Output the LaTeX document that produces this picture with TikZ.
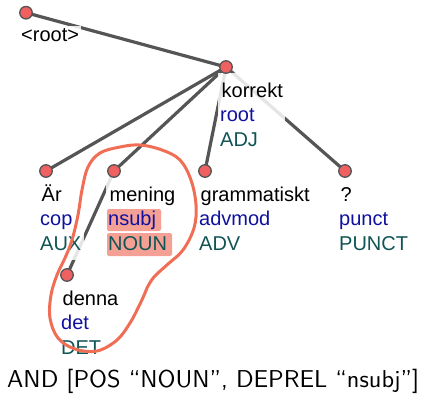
\documentclass[tikz,border=0pt]{standalone}
\usepackage{fontspec}
\newfontfamily\lab{Liberation Sans}
\newfontfamily\qfont{lmsans10-regular.otf}
\usetikzlibrary{fit}

\definecolor{edgegray}{RGB}{85,85,85}
\definecolor{tokred}{RGB}{240,96,96}
\definecolor{relblue}{RGB}{16,16,160}
\definecolor{postea}{RGB}{16,84,84}
\definecolor{hlsalmon}{RGB}{244,160,148}
\definecolor{loopred}{RGB}{240,110,85}

\pgfdeclarelayer{edgelayer}
\pgfdeclarelayer{halolayer}
\pgfsetlayers{edgelayer,halolayer,main}

% token: name, x, y, word, relation, part of speech
\newcommand\deptoken[6]{%
  \node[tok] (#1) at (#2,#3) {};
  \node[wordtxt] (#1w) at ({#2-4.5},{#3+30.5}) {#4};
  \node[reltxt]  (#1r) at ({#2-6},{#3+54.8}) {#5};
  \node[postxt]  (#1p) at ({#2-6},{#3+79}) {#6};
  \begin{pgfonlayer}{halolayer}
    \node[halo, fit=(#1w)(#1r)(#1p)] (#1h) {};
  \end{pgfonlayer}}

\begin{document}
\begin{tikzpicture}[x=1pt, y=-1pt,
  tok/.style={circle, fill=tokred, draw=edgegray, line width=1.3pt,
              minimum size=12.5pt, inner sep=0pt},
  dep/.style={line width=3.2pt, draw=edgegray},
  wordtxt/.style={anchor=base west, inner sep=0pt,
                  font=\lab\fontsize{20}{24}\selectfont, text=black},
  reltxt/.style={wordtxt, text=relblue},
  postxt/.style={wordtxt, text=postea},
  halo/.style={fill=white, fill opacity=0.85, inner xsep=2pt, inner ysep=10pt},
  hl/.style={fill=hlsalmon, rounded corners=2pt},
  lasso/.style={draw=loopred, line width=3pt, line cap=round, line join=round}]

\useasboundingbox (0,0) rectangle (422,394);

% highlighted feature values
\fill[hl] (107,209) rectangle (161,231);
\fill[hl] (107,233) rectangle (172,256);

% root token
\node[tok] (root) at (26,12.7) {};
\node[wordtxt] (rootw) at (21,41) {<root>};
\begin{pgfonlayer}{halolayer}
  \node[halo, inner ysep=2pt, fit=(rootw)] (rooth) {};
\end{pgfonlayer}

\deptoken{korrekt}{226}{67}{korrekt}{root}{ADJ}
\deptoken{ar}{46}{171}{Är}{cop}{AUX}
\deptoken{mening}{114}{171}{mening}{nsubj}{NOUN}
\deptoken{gram}{205}{171}{grammatiskt}{advmod}{ADV}
\deptoken{punct}{345}{171}{?}{punct}{PUNCT}
\deptoken{denna}{67}{275}{denna}{det}{DET}

% dependency arcs
\begin{pgfonlayer}{edgelayer}
  \draw[dep] (root.center) -- (korrekt.center);
  \draw[dep] (korrekt.center) -- (ar.center);
  \draw[dep] (korrekt.center) -- (mening.center);
  \draw[dep] (korrekt.center) -- (gram.center);
  \draw[dep] (korrekt.center) -- (punct.center);
  \draw[dep] (mening.center) -- (denna.center);
\end{pgfonlayer}

% hand-drawn selection around the matched subtree
\draw[lasso] plot[smooth cycle, tension=0.6] coordinates {
  (120,147) (140,145) (162,150) (180,160) (191,180) (196,205) (194,228)
  (183,250) (168,264) (154,277) (147,288) (145,293) (139,306) (130,323)
  (117,340) (97,351) (75,349) (58,338) (50,318) (51,295) (57,275)
  (65,258) (72,240) (78,215) (82,190) (88,167) (100,153)};

% query
\node[anchor=base west, inner sep=0pt, font=\qfont\fontsize{24.4}{28}\selectfont]
  (query) at (7,387) {AND [POS “NOUN”, DEPREL “nsubj”]};
\end{tikzpicture}
\end{document}
